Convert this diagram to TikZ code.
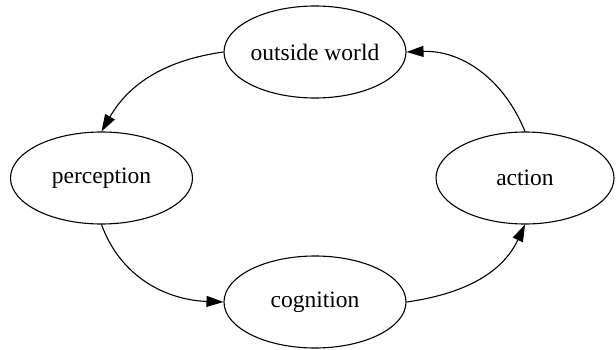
\documentclass[tikz,border=0pt]{standalone}
\usepackage{fontspec}
\setmainfont{Liberation Serif}
\usetikzlibrary{shapes.geometric,arrows.meta}
\begin{document}
\begin{tikzpicture}[x=1pt,y=1pt,
  stnode/.style={draw, ellipse, line width=1.1pt, minimum width=182pt, minimum height=92pt, inner sep=0pt, font=\fontsize{23.5}{28}\selectfont},
  flow/.style={line width=1.1pt, -{Triangle[length=17pt,width=11pt]}}]
\useasboundingbox (0,0) rectangle (616,349);
\node[stnode] (ow) at (315,297) {outside world};
\node[stnode] (perc) at (101.5,171) {perception};
\node[stnode] (cog) at (315,47) {cognition};
\node[stnode, minimum width=178pt] (act) at (525,171) {action};
\draw[flow] (ow.west) to[out=188, in=60] (perc.north);
\draw[flow] (perc.south) to[out=-70, in=178] (cog.west);
\draw[flow] (cog.east) to[out=8, in=-115] (act.south);
\draw[flow] (act.north) to[out=112, in=2] (ow.east);
\end{tikzpicture}
\end{document}
